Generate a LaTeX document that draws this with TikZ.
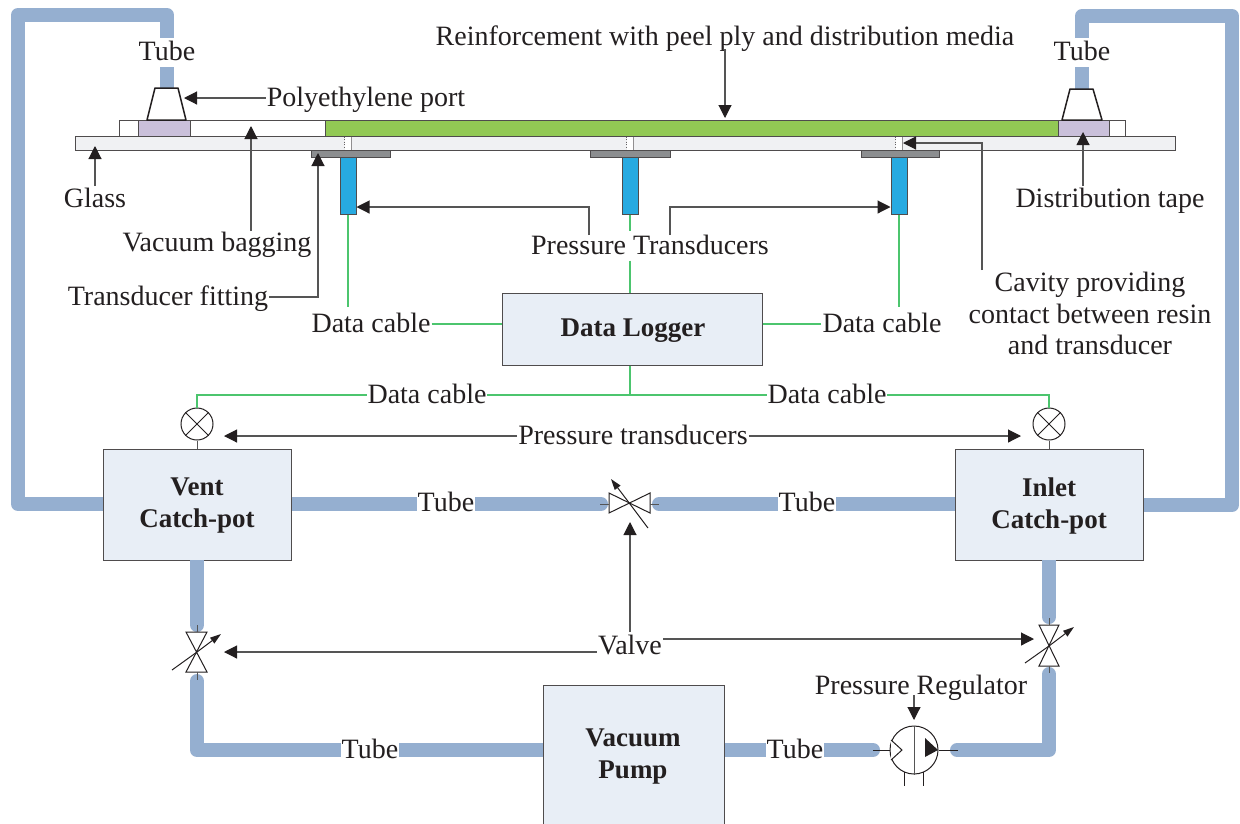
\documentclass[tikz,border=0pt]{standalone}
\usepackage{fontspec}
\setmainfont{Liberation Serif}
\usetikzlibrary{arrows.meta,fit,calc}
\definecolor{tubec}{HTML}{95AFD0}
\definecolor{boxc}{HTML}{E8EEF6}
\definecolor{glassc}{HTML}{F0F1F3}
\definecolor{greenc}{HTML}{92C954}
\definecolor{purplec}{HTML}{CAC0DA}
\definecolor{bluec}{HTML}{27AAE1}
\definecolor{fitc}{HTML}{8C8E90}
\definecolor{cablec}{HTML}{4CC56E}
\definecolor{inkc}{HTML}{231F20}
\definecolor{linec}{HTML}{555555}
\tikzset{
  tubeline/.style={draw=tubec,line width=14pt,line join=round},
  tubecap/.style={tubeline,line cap=round},
  arr/.style={draw=linec,line width=1.1pt,-{Triangle[length=13pt,width=13pt,color=inkc]}},
  cable/.style={draw=cablec,line width=1.2pt},
  thinl/.style={draw=linec,line width=1pt},
  lbl/.style={font=\fontsize{28}{32}\selectfont,text=inkc,inner sep=1pt,text height=22pt,text depth=5pt,align=center},
  tubelbl/.style={lbl,fill=white,inner sep=1pt},
  lblw/.style={lbl,fill=white},
  mlbl/.style={font=\fontsize{28}{31.5}\selectfont,text=inkc,inner sep=0pt,align=center},
  titl/.style={font=\fontsize{27}{32}\selectfont\bfseries,text=inkc,align=center,inner sep=0pt},
  bigbox/.style={draw=inkc!80,line width=1pt,fill=boxc,inner sep=0pt},
  rectp/.style={draw=inkc!80,line width=1pt,inner sep=0pt},
  gauge/.style={circle,draw=inkc,line width=1pt,fill=white,minimum size=32pt,inner sep=0pt},
  sym/.style={draw=inkc,line width=1pt},
  slant/.style={draw=inkc,line width=1pt,-{Triangle[length=11pt,width=7pt,color=inkc]}},
}
\begin{document}
\begin{tikzpicture}[x=1pt,y=-1pt]
\useasboundingbox (0,0) rectangle (1240,823);
\clip (0,0) rectangle (1240,823);
% boxes
\node[bigbox,fit={(502,293)(762,365)}] (logger) {};
\node[bigbox,fit={(103,449)(291,560)}] (vent) {};
\node[bigbox,fit={(955,449)(1143,560)}] (inlet) {};
\node[bigbox,fit={(543,685)(724,835)}] (pump) {};
\coordinate (vl) at (197,652);
\coordinate (vr) at (1049,646);
\coordinate (vc) at (630,504);
\node[circle,draw=inkc,line width=1pt,fill=white,minimum size=48pt,inner sep=0pt] (reg) at (914,750) {};
% tubes
\draw[tubeline] (vent.west |- 0,504) -- (18,504) -- (18,15) -- (167,15) -- (167,92);
\draw[tubeline] (inlet.east |- 0,505) -- (1232,505) -- (1232,16) -- (1082,16) -- (1082,92);
\draw[tubecap,line cap=butt] (vent.east |- 0,504) -- (596,504);
\draw[tubecap] (596,504) -- (601,504);
\draw[tubecap,line cap=butt] (inlet.west |- 0,504) -- (664,504);
\draw[tubecap] (664,504) -- (659,504);
\draw[tubecap,line cap=butt] (197,560) -- (197,620);
\draw[tubecap] (197,620) -- (197,625);
\draw[tubecap,line cap=butt] (1049,560) -- (1049,612);
\draw[tubecap] (1049,612) -- (1049,617);
\draw[tubeline] (pump.west |- 0,750) -- (197,750) -- (197,690);
\draw[tubecap] (197,690) -- (197,681);
\draw[tubeline] (958,750) -- (1049,750) -- (1049,680);
\draw[tubecap] (1049,680) -- (1049,674);
\draw[tubecap] (958,750) -- (957,750);
\draw[tubecap,line cap=butt] (pump.east |- 0,750) -- (872,750);
\draw[tubecap] (872,750) -- (873,750);
% plate
\node[rectp,fill=glassc,fit={(75,136)(1175,150)}] (glass) {};
\node[rectp,fill=white,fit={(119,120)(1125,136)}] (bag) {};
\node[rectp,fill=greenc,fit={(325,120)(1058,136)}] (reinf) {};
\node[rectp,fill=purplec,fit={(138,120)(190,136)}] (tapeL) {};
\node[rectp,fill=purplec,fit={(1058,120)(1109,136)}] (tapeR) {};
\draw[draw=inkc,line width=1.5pt,fill=white,line join=round] (155,88) -- (178,88) -- (186,120) -- (147,120) -- cycle;
\draw[draw=inkc,line width=1.5pt,fill=white,line join=round] (1070,89) -- (1093,89) -- (1102,120) -- (1062,120) -- cycle;
\coordinate (portLtip) at (184,98);
% sensors
\foreach \n/\xc/\fa/\fb in {A/348/311/390,B/630/590/670,C/899/861/939}{
  \fill[white] (\xc-3.5,136.5) rectangle (\xc+3.5,151);
  \draw[inkc!70,line width=.6pt,dotted] (\xc-3.5,136.5) -- (\xc-3.5,151) -- (\xc+3.5,151);
  \draw[inkc!50,line width=.6pt] (\xc+3.5,136.5) -- (\xc+3.5,151);
  \node[rectp,fill=fitc,fit={(\fa,150.5)(\fb,157)}] (fit\n) {};
  \node[rectp,fill=bluec,fit={(\xc-8,157)(\xc+8,214)}] (tr\n) {};
}
% labels
\node[lbl] (reinfl) at (725,37) {Reinforcement with peel ply and distribution media};
\node[tubelbl] (tubeTL) at (167,52) {Tube};
\node[tubelbl] (tubeTR) at (1082,52) {Tube};
\node[lbl] (poly) at (366,98) {Polyethylene port};
\node[lbl] (glassl) at (95,199) {Glass};
\node[lbl] (bagl) at (217,243) {Vacuum bagging};
\node[lbl] (fitl) at (168,297) {Transducer fitting};
\node[lblw] (ptl) at (650,246) {Pressure Transducers};
\node[lbl] (dist) at (1110,199) {Distribution tape};
\node[mlbl] (cav) at (1090,313.5) {Cavity providing\\contact between resin\\and transducer};
\node[lblw] (dc1) at (371,324) {Data cable};
\node[lblw] (dc2) at (882,324) {Data cable};
% cables
\draw[cable] (trA.south) -- (trA.south |- 0,307);
\draw[cable] (trC.south) -- (trC.south |- 0,307);
\draw[cable] (trB.south) -- (trB.south |- ptl.north);
\draw[cable] (trB.south |- ptl.south) -- (trB.south |- logger.north);
\draw[cable] (dc1.east) -- (logger.west |- dc1.east);
\draw[cable] (logger.east |- dc2.west) -- (dc2.west);
\node[gauge] (gL) at (197,424) {};
\node[gauge] (gR) at (1049,424) {};
\foreach \g in {gL,gR}{
  \draw[sym] (\g.45) -- (\g.225);
  \draw[sym] (\g.135) -- (\g.315);
}
\coordinate (bus) at (630,395);
\draw[cable] (logger.south -| bus) -- (bus);
\draw[cable] (gL.north) -- (197,395) -- (1049,395) -- (gR.north);
\draw[thinl] (gL.south) -- (vent.north -| gL.south);
\draw[thinl] (gR.south) -- (inlet.north -| gR.south);
\node[lblw] (dc3) at (427,395) {Data cable};
\node[lblw] (dc4) at (827,395) {Data cable};
\node[lbl] (ptr) at (633,436) {Pressure transducers};
\node[lblw] (valvel) at (630,646) {Valve};
\node[tubelbl] (t1) at (446,503) {Tube};
\node[tubelbl] (t2) at (807,503) {Tube};
\node[tubelbl] (t3) at (370,750) {Tube};
\node[tubelbl] (t4) at (795,750) {Tube};
\node[lbl] (regl) at (921,686) {Pressure Regulator};
% box titles
\node[titl] at (633,331) {Data Logger};
\node[titl] at (197,506) {Vent\\Catch-pot};
\node[titl] at (1049,506) {Inlet\\Catch-pot};
\node[titl] at (633,757) {Vacuum\\Pump};
% arrows
\draw[arr] (725,49) -- (725,118);
\draw[arr] (poly.west) -- (portLtip);
\draw[arr] (95,186) -- (95,146);
\draw[arr] (251,231) -- (251,126);
\draw[arr] (fitl.east) -- (318,297) -- (318,153);
\draw[arr] (589,235) -- (589,207) -- (trA.east |- 0,207);
\draw[arr] (670,235) -- (670,207) -- (trC.west |- 0,207);
\draw[arr] (982,270) -- (982,143) -- (903,143);
\draw[arr] (1083,186) -- (1083,132);
\draw[arr] (ptr.west) -- (224,436);
\draw[arr] (ptr.east) -- (1021,436);
\draw[arr] (630,632) -- (630,522);
\draw[arr] (valvel.west |- 0,652) -- (224,652);
\draw[arr] (valvel.east |- 0,639) -- (1034,639);
\draw[arr] (914,695) -- (914,720);
% horizontal valve
\draw[sym,fill=white] (609,493) -- (650,513) -- (650,493) -- (609,513) -- cycle;
\draw[thinl] (600,504) -- (609,504);
\draw[thinl] (650,504) -- (659,504);
\draw[slant] (vc) -- (611,479);
\draw[sym] (vc) -- (648,528);
% left valve
\draw[sym,fill=white] (186,632) -- (207,632) -- (186,672) -- (207,672) -- cycle;
\draw[thinl] (197,625) -- (197,632);
\draw[thinl] (197,672) -- (197,680);
\draw[sym] (172,670) -- (vl);
\draw[slant] (vl) -- (221,634);
% right valve
\draw[sym,fill=white] (1039,625) -- (1059,625) -- (1039,666) -- (1059,666) -- cycle;
\draw[thinl] (1049,618) -- (1049,625);
\draw[thinl] (1049,666) -- (1049,673);
\draw[sym] (1025,663) -- (vr);
\draw[slant] (vr) -- (1074,627);
% regulator
\draw[thinl] (reg.north) -- (reg.south);
\draw[sym,fill=white] (891,740) -- (902,750) -- (891,760);
\fill[inkc] (925,738) -- (938,750) -- (925,757) -- cycle;
\draw[sym] (873,750) -- (reg.west);
\draw[sym] (reg.east) -- (958,750);
\draw[sym] (904,772) -- (904,786);
\draw[sym] (923,772) -- (923,786);
\end{tikzpicture}
\end{document}
